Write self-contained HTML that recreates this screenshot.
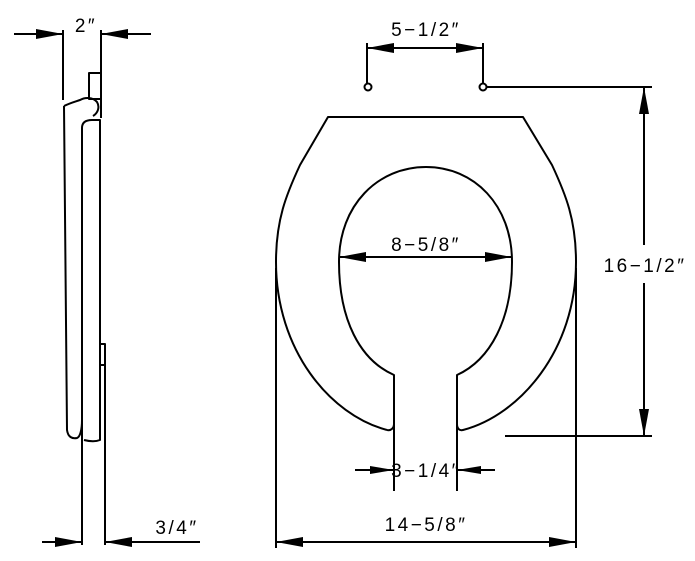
<!DOCTYPE html>
<html><head><style>
html,body{margin:0;padding:0;background:#fff;}
svg{display:block;}
text{font-family:"Liberation Sans",sans-serif;font-size:19px;fill:#000;letter-spacing:2.5px;}
</style></head><body>
<svg width="695" height="561" viewBox="0 0 695 561" xmlns="http://www.w3.org/2000/svg">
<g fill="none" stroke="#000" stroke-width="2" stroke-linejoin="round">
<line x1="14" y1="34" x2="63" y2="34"/>
<line x1="101" y1="34" x2="151" y2="34"/>
<line x1="63" y1="30" x2="63" y2="100"/>
<line x1="101" y1="30" x2="101" y2="118"/>
<rect x="89" y="73" width="12" height="26"/>
<path d="M64,106 C70,103 74,102 80,100 C85,97 93,97 97,102 C100,107 98,113 93,116 M64,106 L67,430 C68,437 72,439 77,438 C80,437 82,430 82,420"/>
<path d="M82,545 L82,128 C82,122 86,120 92,120 L100,120 L100,440 C95,442 88,441 84,440"/>
<rect x="100" y="344" width="5" height="21"/>
<line x1="105" y1="344" x2="105" y2="545"/>
<line x1="42" y1="542" x2="82" y2="542"/>
<line x1="105" y1="542" x2="200" y2="542"/>

<path d="M387,430 C330,415 276,350 276,262 C276,220 286,195 300,165 L328,117 L523,117 L552,165 C566,195 576,220 576,262 C576,350 520,415 463,430 C459,431 457,428 457,424"/>
<path d="M387,430 C391,431 394,428 394,424"/>
<path d="M394,491 L394,375 C360,360 339,320 339,262 C339,205 378,167 426,167 C474,167 512,205 512,262 C512,320 490,360 457,375 L457,491"/>
<circle cx="368" cy="87" r="3.5"/>
<circle cx="483" cy="87" r="3.5"/>
<line x1="367" y1="43" x2="367" y2="83"/>
<line x1="483" y1="43" x2="483" y2="83"/>
<line x1="367" y1="48" x2="483" y2="48"/>
<line x1="487" y1="87" x2="652" y2="87"/>
<line x1="505" y1="436" x2="652" y2="436"/>
<line x1="644" y1="87" x2="644" y2="245"/>
<line x1="644" y1="283" x2="644" y2="436"/>
<line x1="339" y1="257" x2="512" y2="257"/>
<line x1="355" y1="470" x2="394" y2="470"/>
<line x1="457" y1="470" x2="495" y2="470"/>
<line x1="276" y1="268" x2="276" y2="548"/>
<line x1="576" y1="268" x2="576" y2="548"/>
<line x1="276" y1="542" x2="576" y2="542"/>
</g>
<g fill="#000">
<polygon points="63,34 36,29 36,39"/>
<polygon points="101,34 128,29 128,39"/>
<polygon points="82,542 55,537 55,547"/>
<polygon points="105,542 132,537 132,547"/>
<polygon points="367,48 394,43 394,53"/>
<polygon points="483,48 456,43 456,53"/>
<polygon points="644,87 639,114 649,114"/>
<polygon points="644,436 639,409 649,409"/>
<polygon points="339,257 366,252 366,262"/>
<polygon points="512,257 485,252 485,262"/>
<polygon points="394,470 370,466 370,474"/>
<polygon points="457,470 481,466 481,474"/>
<polygon points="276,542 303,537 303,547"/>
<polygon points="576,542 549,537 549,547"/>
</g>
<text x="86" y="32" text-anchor="middle">2″</text>
<text x="177" y="534" text-anchor="middle">3/4″</text>
<text x="426" y="36" text-anchor="middle">5−1/2″</text>
<text x="645" y="272" text-anchor="middle">16−1/2″</text>
<text x="426" y="251" text-anchor="middle">8−5/8″</text>
<text x="426" y="477" text-anchor="middle">3−1/4″</text>
<text x="426" y="531" text-anchor="middle">14−5/8″</text>
</svg>
</body></html>
